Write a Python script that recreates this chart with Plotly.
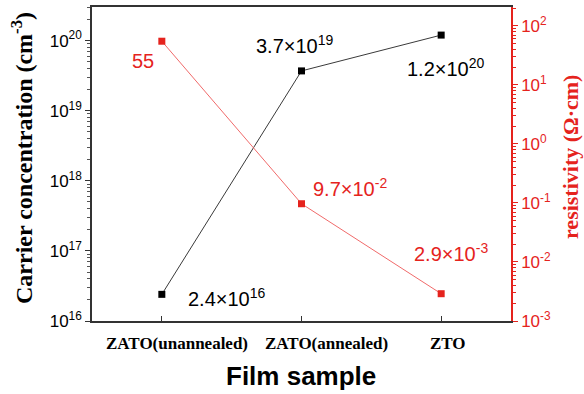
import math
import plotly.graph_objects as go

categories = ["ZATO(unannealed)", "ZATO(annealed)", "ZTO"]
carrier_conc = [2.4e16, 3.7e19, 1.2e20]
resistivity = [55, 9.7e-2, 2.9e-3]
carrier_labels = ["2.4×10<sup>16</sup>", "3.7×10<sup>19</sup>", "1.2×10<sup>20</sup>"]
resist_labels = ["55", "9.7×10<sup>-2</sup>", "2.9×10<sup>-3</sup>"]
left_tickvals = [1e16, 1e17, 1e18, 1e19, 1e20]
left_ticktext = ["10<sup>16</sup>", "10<sup>17</sup>", "10<sup>18</sup>", "10<sup>19</sup>", "10<sup>20</sup>"]
right_tickvals = [1e-3, 1e-2, 1e-1, 1e0, 1e1, 1e2]
right_ticktext = ["10<sup>-3</sup>", "10<sup>-2</sup>", "10<sup>-1</sup>", "10<sup>0</sup>", "10<sup>1</sup>", "10<sup>2</sup>"]

RED = "#e5231d"

fig = go.Figure()
fig.add_trace(go.Scatter(x=categories, y=carrier_conc, mode="lines+markers",
                         line=dict(color="#3a3a3a", width=1),
                         marker=dict(symbol="square", size=7, color="black"),
                         yaxis="y", showlegend=False))
fig.add_trace(go.Scatter(x=categories, y=resistivity, mode="lines+markers",
                         line=dict(color="#f06a6a", width=1),
                         marker=dict(symbol="square", size=7, color=RED),
                         yaxis="y2", showlegend=False))

# label offsets (pixels) relative to points
c_shift = [(65, 3), (-7, -26), (5, 32)]
r_shift = [(-19, 20), (48, -16), (10, -41)]
cat_label_shift = [15, 25, 7]
ann = []
for i, c in enumerate(categories):
    ann.append(dict(x=c, y=math.log10(carrier_conc[i]), xref="x", yref="y",
                    text=carrier_labels[i], showarrow=False,
                    xanchor="center", yanchor="middle",
                    xshift=c_shift[i][0], yshift=-c_shift[i][1],
                    font=dict(family="Liberation Sans", size=20, color="black")))
    ann.append(dict(x=c, y=math.log10(resistivity[i]), xref="x", yref="y2",
                    text=resist_labels[i], showarrow=False,
                    xanchor="center", yanchor="middle",
                    xshift=r_shift[i][0], yshift=-r_shift[i][1],
                    font=dict(family="Liberation Sans", size=20, color=RED)))

W, H = 584, 394
ml, mr, mt, mb = 92, 73, 7, 73
pw, ph = W - ml - mr, H - mt - mb
def px(xp): return (xp - ml) / pw
def py(yp): return (H - mb - yp) / ph

for i, c in enumerate(categories):
    ann.append(dict(x=c, y=py(343), xref="x", yref="paper", text="<b>%s</b>" % c,
                    showarrow=False, xshift=cat_label_shift[i],
                    xanchor="center", yanchor="middle",
                    font=dict(family="Liberation Serif", size=17, color="black")))

ann.append(dict(x=px(22), y=py(158), xref="paper", yref="paper",
                text="<b>Carrier concentration (cm<sup>-3</sup>)</b>", textangle=-90,
                xanchor="center", yanchor="middle",
                showarrow=False, font=dict(family="Liberation Serif", size=24, color="black")))
ann.append(dict(x=px(570), y=py(157), xref="paper", yref="paper",
                text="<b>resistivity (Ω·cm)</b>", textangle=-90,
                xanchor="center", yanchor="middle",
                showarrow=False, font=dict(family="Liberation Serif", size=22, color=RED)))
ann.append(dict(x=px(301), y=py(376), xref="paper", yref="paper",
                text="<b>Film sample</b>", showarrow=False,
                xanchor="center", yanchor="middle",
                font=dict(family="Liberation Sans", size=26, color="black")))

minor_left = [k * 10.0**n for n in range(16, 21) for k in range(2, 10)]
minor_right = [k * 10.0**n for n in range(-3, 3) for k in range(2, 10)]

fig.update_layout(
    width=W, height=H,
    margin=dict(l=ml, r=mr, t=mt, b=mb, autoexpand=False),
    paper_bgcolor="white", plot_bgcolor="white",
    annotations=ann,
    xaxis=dict(range=[-0.5, 2.5], showgrid=False, zeroline=False, automargin=False,
               showline=True, linecolor="#333333", linewidth=1.5, mirror=True,
               ticks="inside", ticklen=5, tickcolor="#333333",
               showticklabels=False),
    yaxis=dict(type="log", range=[16, 20.48], showgrid=False, zeroline=False, automargin=False,
               showline=True, linecolor="#333333", linewidth=1.5,
               tickmode="array", tickvals=left_tickvals, ticktext=left_ticktext,
               ticks="outside", ticklen=5, tickcolor="#333333",
               tickfont=dict(family="Liberation Sans", size=17, color="black"),
               minor=dict(tickmode="array", tickvals=minor_left, ticks="outside",
                          ticklen=3, tickcolor="#555555")),
    yaxis2=dict(type="log", range=[-3, 2.32], overlaying="y", side="right",
                showgrid=False, zeroline=False, automargin=False,
                showline=True, linecolor=RED, linewidth=1.5,
                tickmode="array", tickvals=right_tickvals, ticktext=right_ticktext,
                ticks="outside", ticklen=5, tickcolor=RED,
                tickfont=dict(family="Liberation Sans", size=17, color=RED),
                minor=dict(tickmode="array", tickvals=minor_right, ticks="outside",
                           ticklen=3, tickcolor=RED)),
)

fig.write_html("out.html", config={"displayModeBar": False},
               post_script="document.body.style.margin='0';")
